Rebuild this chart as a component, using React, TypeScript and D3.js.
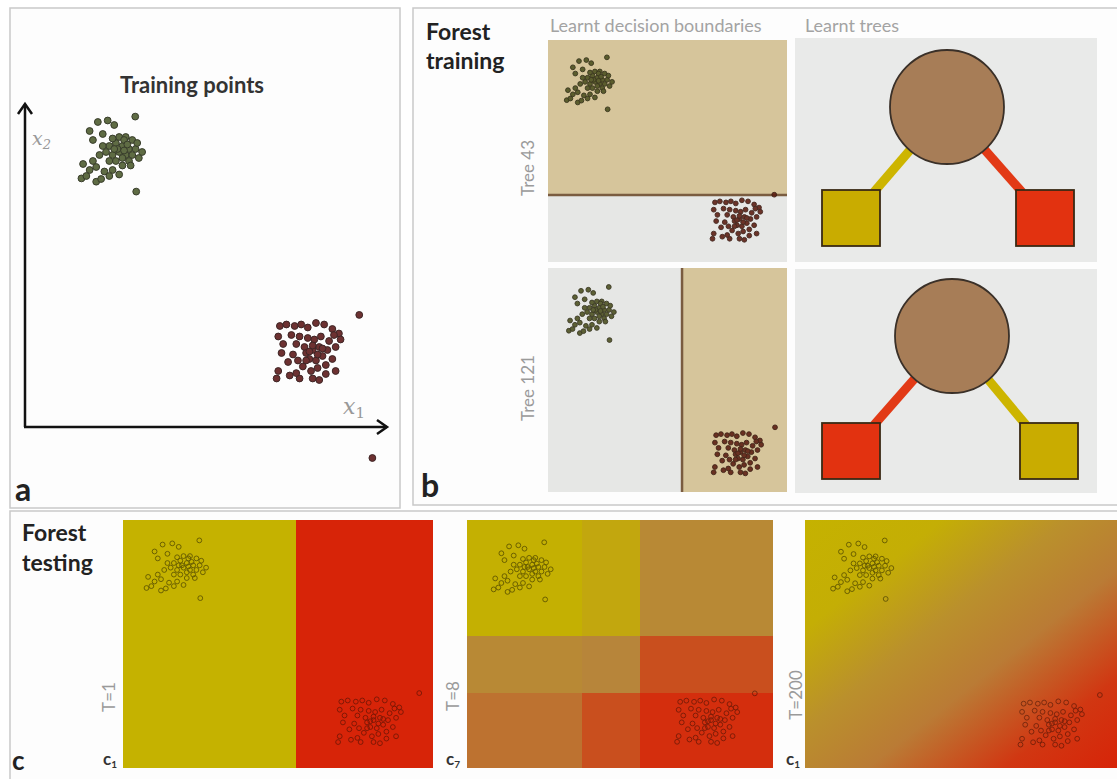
import React from 'react'
import * as d3 from 'd3'

// training points in (x1, x2) units, 0..10
const greenPoints: [number, number][] = [
  [2.69, 9.68], [2.72, 7.18],
  [1.3, 9.2], [1.55, 9.5], [1.85, 9.55], [2.05, 9.4], [1.7, 9.1], [1.4, 8.9],
  [1.9, 8.7], [2.1, 8.8], [2.3, 8.7], [2.5, 8.6], [2.2, 8.5], [2.0, 8.4], [1.8, 8.5],
  [2.4, 8.4], [2.6, 8.4], [2.7, 8.6], [2.3, 8.3], [2.1, 8.2], [1.9, 8.2], [2.5, 8.2],
  [2.8, 8.3], [2.2, 9.0], [2.4, 9.0], [2.6, 8.9], [1.7, 8.7], [1.6, 8.4], [2.0, 8.95],
  [2.35, 8.9], [2.75, 8.8], [2.9, 8.5], [2.55, 8.05], [2.3, 8.05],
  [1.5, 8.0], [1.3, 7.9], [1.05, 7.62], [1.5, 7.51], [1.2, 7.7], [1.75, 7.85],
  [1.65, 7.6], [2.0, 7.9], [1.9, 7.7], [2.2, 7.75], [1.4, 8.2], [1.1, 8.1],
  [2.15, 8.6], [2.45, 8.75], [2.05, 8.6], [2.35, 8.55],
]
const redPoints: [number, number][] = [
  [9.52, 3.07], [9.92, -1.7],
  [7.1, 2.7], [7.3, 2.75], [7.55, 2.7], [7.75, 2.75], [7.95, 2.65], [8.2, 2.8],
  [8.45, 2.75], [8.7, 2.6], [8.9, 2.45],
  [7.05, 2.35], [7.2, 2.1], [7.15, 1.8], [7.45, 2.4], [7.7, 2.35], [7.6, 2.1],
  [7.85, 2.0], [7.5, 1.75], [7.35, 1.5],
  [7.9, 1.8], [8.1, 1.9], [8.3, 2.0], [8.0, 1.6], [8.2, 1.55], [8.4, 1.7], [8.55, 1.9],
  [8.6, 2.2], [8.35, 2.35], [8.15, 2.25], [7.95, 2.3], [8.7, 1.6], [8.5, 1.4],
  [8.25, 1.3], [7.8, 1.35], [7.65, 1.55], [8.05, 1.2], [8.8, 2.0], [8.95, 2.25], [8.75, 2.4],
  [7.05, 1.2], [7.4, 1.05], [7.7, 0.95], [8.1, 0.95], [8.5, 1.1], [8.8, 1.2],
  [7.0, 0.95], [8.3, 0.9], [7.6, 1.13],
  [8.0, 1.85], [8.25, 1.75], [8.1, 2.05], [7.9, 1.55], [8.4, 1.95],
]

// learnt split thresholds
const tree43Split = 3.05 // on x2
const tree121Split = 5.7 // on x1

// T=8 forest posterior: bands and p(red) per cell, rows from bottom
const t8XSplits = [3.9, 5.8]
const t8YSplits = [3.1, 5.6]
const t8Cells = [
  [0.6, 0.78, 0.95],
  [0.46, 0.5, 0.78],
  [0.02, 0.12, 0.46],
]

// T=200 posterior along the diagonal (offset, p(red))
const t200Stops: [number, number][] = [
  [0, 0.0], [0.22, 0.04], [0.42, 0.38], [0.6, 0.55], [0.82, 0.9], [1, 1],
]

const posterior = d3.scaleLinear<string>()
  .domain([0, 0.5, 1])
  .range(['#c5b200', '#b7853a', '#d72408'])

const font = 'Lato, "Open Sans", sans-serif'

type Plot = { id: string, x: number, y: number, w: number, h: number, xr: [number, number], yr: [number, number] }

const plotA = { xr: [47, 375] as [number, number], yr: [407, 107] as [number, number] }
const plotB1: Plot = { id: 'b1', x: 548, y: 40, w: 239, h: 222, xr: [541, 786], yr: [258.5, 50.7] }
const plotB2: Plot = { id: 'b2', x: 548, y: 268, w: 239, h: 224, xr: [543.3, 786.7], yr: [492.5, 280.2] }
const plotC1: Plot = { id: 'c1', x: 123, y: 520, w: 310, h: 248, xr: [112.7, 434.7], yr: [764, 533] }
const plotC2: Plot = { id: 'c2', x: 467, y: 520, w: 306, h: 248, xr: [461.3, 769.6], yr: [763.5, 535] }
const plotC3: Plot = { id: 'c3', x: 805, y: 520, w: 312, h: 248, xr: [800, 1115], yr: [766.8, 533] }

const scales = (p: { xr: [number, number], yr: [number, number] }) => ({
  sx: d3.scaleLinear().domain([0, 10]).range(p.xr),
  sy: d3.scaleLinear().domain([0, 10]).range(p.yr),
})

function Points({ data, sx, sy, r, fill, stroke, opacity = 1, sw = 1 }: any) {
  return (
    <g opacity={opacity}>
      {data.map((d: [number, number], i: number) => (
        <circle key={i} cx={sx(d[0])} cy={sy(d[1])} r={r} fill={fill} stroke={stroke} strokeWidth={sw} />
      ))}
    </g>
  )
}

function MiniPoints({ plot, dark }: { plot: Plot, dark: boolean }) {
  const { sx, sy } = scales(plot)
  return (
    <g clipPath={`url(#clip-${plot.id})`}>
      <Points data={greenPoints} sx={sx} sy={sy} r={2.4}
        fill={dark ? 'none' : '#4e5222'} stroke={dark ? '#3a3300' : '#2a2812'} sw={0.9} opacity={dark ? 0.7 : 0.9} />
      <Points data={redPoints} sx={sx} sy={sy} r={2.4}
        fill={dark ? 'none' : '#5e2014'} stroke={dark ? '#3a1005' : '#33150c'} sw={0.9} opacity={dark ? 0.6 : 0.9} />
    </g>
  )
}

function Tree({ cx, cy, r, left, right, leftColor, rightColor, leftFill, rightFill }: any) {
  const sq = 58
  const edge = (corner: [number, number], color: string) => {
    const a = Math.atan2(corner[1] - cy, corner[0] - cx)
    return <line x1={cx + r * Math.cos(a)} y1={cy + r * Math.sin(a)} x2={corner[0]} y2={corner[1]}
      stroke={color} strokeWidth={9} />
  }
  return (
    <g>
      {edge([left[0] + sq - 6, left[1] + 2], leftColor)}
      {edge([right[0] + 6, right[1] + 2], rightColor)}
      <circle cx={cx} cy={cy} r={r} fill="#a77d57" stroke="#3a3028" strokeWidth={1.8} />
      <rect x={left[0]} y={left[1]} width={sq} height={56} fill={leftFill} stroke="#3a2a14" strokeWidth={1.8} />
      <rect x={right[0]} y={right[1]} width={sq} height={56} fill={rightFill} stroke="#3a2a14" strokeWidth={1.8} />
    </g>
  )
}

export default function App() {
  const a = scales(plotA)
  const b1 = scales(plotB1)
  const b2 = scales(plotB2)
  const c1 = scales(plotC1)
  const c2 = scales(plotC2)

  const xb = [0, ...t8XSplits, 10]
  const yb = [0, ...t8YSplits, 10]
  const plots = [plotB1, plotB2, plotC1, plotC2, plotC3]
  const yellow = '#c9ac00', red = '#e23210'

  return (
    <svg width={1117} height={779} style={{ position: 'absolute', left: 0, top: 0, background: '#fff' }}
      fontFamily={font}>
      <defs>
        {plots.map(p => (
          <clipPath key={p.id} id={`clip-${p.id}`}>
            <rect x={p.x} y={p.y} width={p.w} height={p.h} />
          </clipPath>
        ))}
        <linearGradient id="t200" x1="0" y1="0" x2="1" y2="1">
          {t200Stops.map((s, i) => <stop key={i} offset={s[0]} stopColor={posterior(s[1])} />)}
        </linearGradient>
      </defs>

      {/* panel frames */}
      <rect x={10} y={8} width={390} height={500} fill="#fdfdfd" stroke="#c9c9c9" strokeWidth={1.5} />
      <rect x={413} y={8} width={720} height={497} fill="#fdfdfd" stroke="#c9c9c9" strokeWidth={1.5} />
      <rect x={10} y={511} width={1120} height={280} fill="#fdfdfd" stroke="#c9c9c9" strokeWidth={1.5} />

      {/* panel a */}
      <text x={192} y={93} textAnchor="middle" fontSize={22} fontWeight="bold" fill="#333">Training points</text>
      <g stroke="#111" strokeWidth={2.5} fill="none">
        <line x1={25} y1={427} x2={25} y2={104} />
        <line x1={24} y1={427} x2={387} y2={427} />
        <polyline points="18,114 25,104 32,114" />
        <polyline points="377,420 387,427 377,434" />
      </g>
      <text x={32} y={145} fontFamily='"DejaVu Serif", serif' fontStyle="italic" fontSize={19} fill="#999">x<tspan fontSize={13} dy={4}>2</tspan></text>
      <text x={343} y={414} fontFamily='"DejaVu Serif", serif' fontStyle="italic" fontSize={22} fill="#999">x<tspan fontSize={15} dy={4} fontStyle="normal">1</tspan></text>
      <Points data={greenPoints} sx={a.sx} sy={a.sy} r={3.4} fill="#4f5d30" stroke="#232815" sw={1} opacity={0.9} />
      <Points data={redPoints} sx={a.sx} sy={a.sy} r={3.4} fill="#5e1c1c" stroke="#2a1010" sw={1} opacity={0.9} />
      <text x={15} y={501} fontSize={32} fontWeight="bold" fill="#222">a</text>

      {/* panel b */}
      <text x={426} y={40} fontSize={23} fontWeight="bold" fill="#222">Forest</text>
      <text x={426} y={69} fontSize={23} fontWeight="bold" fill="#222">training</text>
      <text x={550} y={32} fontSize={18} fill="#a3a3a3">Learnt decision boundaries</text>
      <text x={805} y={32} fontSize={18} fill="#a3a3a3">Learnt trees</text>
      <text transform="translate(534,168) rotate(-90)" textAnchor="middle" fontSize={17} fill="#9a9a9a">Tree 43</text>
      <text transform="translate(534,388) rotate(-90)" textAnchor="middle" fontSize={17} fill="#9a9a9a">Tree 121</text>

      <g clipPath="url(#clip-b1)">
        <rect x={plotB1.x} y={plotB1.y} width={plotB1.w} height={plotB1.h} fill="#e6e7e5" />
        <rect x={plotB1.x} y={plotB1.y} width={plotB1.w} height={b1.sy(tree43Split) - plotB1.y} fill="#d6c59b" />
        <line x1={plotB1.x} x2={plotB1.x + plotB1.w} y1={b1.sy(tree43Split)} y2={b1.sy(tree43Split)} stroke="#7a5c40" strokeWidth={2.5} />
      </g>
      <MiniPoints plot={plotB1} dark={false} />

      <g clipPath="url(#clip-b2)">
        <rect x={plotB2.x} y={plotB2.y} width={plotB2.w} height={plotB2.h} fill="#e6e7e5" />
        <rect x={b2.sx(tree121Split)} y={plotB2.y} width={plotB2.x + plotB2.w - b2.sx(tree121Split)} height={plotB2.h} fill="#d6c59b" />
        <line x1={b2.sx(tree121Split)} x2={b2.sx(tree121Split)} y1={plotB2.y} y2={plotB2.y + plotB2.h} stroke="#7a5c40" strokeWidth={2.5} />
      </g>
      <MiniPoints plot={plotB2} dark={false} />

      <rect x={795} y={38} width={302} height={224} fill="#e9eae9" />
      <rect x={795} y={269} width={302} height={224} fill="#e9eae9" />
      <Tree cx={947} cy={107} r={57} left={[822, 190]} right={[1016, 190]}
        leftColor="#cdb500" rightColor="#e23a16" leftFill={yellow} rightFill={red} />
      <Tree cx={952} cy={336} r={57} left={[822, 423]} right={[1020, 423]}
        leftColor="#e23a16" rightColor="#cdb500" leftFill={red} rightFill={yellow} />
      <text x={421} y={497} fontSize={32} fontWeight="bold" fill="#222">b</text>

      {/* panel c */}
      <text x={22} y={541} fontSize={23} fontWeight="bold" fill="#222">Forest</text>
      <text x={22} y={571} fontSize={23} fontWeight="bold" fill="#222">testing</text>
      <text x={12} y={770} fontSize={26} fontWeight="bold" fill="#222">c</text>

      {/* T=1 */}
      <g clipPath="url(#clip-c1)" shapeRendering="crispEdges">
        <rect x={plotC1.x} y={plotC1.y} width={Math.round(c1.sx(tree121Split)) - plotC1.x} height={plotC1.h} fill={posterior(0)} />
        <rect x={Math.round(c1.sx(tree121Split))} y={plotC1.y} width={plotC1.x + plotC1.w - Math.round(c1.sx(tree121Split))} height={plotC1.h} fill={posterior(1)} />
      </g>
      <MiniPoints plot={plotC1} dark={true} />

      {/* T=8 */}
      <g clipPath="url(#clip-c2)" shapeRendering="crispEdges">
        {t8Cells.map((row, ri) => row.map((p, ci) => {
          const x0 = ci === 0 ? plotC2.x : Math.round(c2.sx(xb[ci]))
          const x1 = ci === 2 ? plotC2.x + plotC2.w : Math.round(c2.sx(xb[ci + 1]))
          const y0 = ri === 2 ? plotC2.y : Math.round(c2.sy(yb[ri + 1]))
          const y1 = ri === 0 ? plotC2.y + plotC2.h : Math.round(c2.sy(yb[ri]))
          return <rect key={`${ri}-${ci}`} x={x0} y={y0} width={x1 - x0} height={y1 - y0} fill={posterior(p)} />
        }))}
      </g>
      <MiniPoints plot={plotC2} dark={true} />

      {/* T=200 */}
      <rect x={plotC3.x} y={plotC3.y} width={plotC3.w} height={plotC3.h} fill="url(#t200)" />
      <MiniPoints plot={plotC3} dark={true} />

      {[[110, 697, 'T=1'], [454, 696, 'T=8'], [797, 695, 'T=200']].map(([x, y, t]) => (
        <text key={t as string} transform={`translate(${(x as number) + 5},${y}) rotate(-90)`} textAnchor="middle"
          fontSize={17} fill="#9a9a9a">{t}</text>
      ))}
      {[[103, '1'], [446, '7'], [786, '1']].map(([x, s], i) => (
        <text key={i} x={x as number} y={765} fontSize={17} fontWeight="bold" fill="#333">c<tspan fontSize={10} dy={3}>{s}</tspan></text>
      ))}
    </svg>
  )
}
